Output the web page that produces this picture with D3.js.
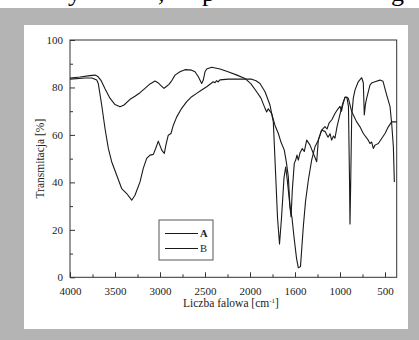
<!DOCTYPE html>
<html>
<head>
<meta charset="utf-8">
<script src="https://cdn.jsdelivr.net/npm/d3@7"></script>
<style>
  body { margin: 0; background: #b4b4b4; }
  svg { display: block; }
  text { font-family: "Liberation Serif", "Times New Roman", serif; fill: #222; }
</style>
</head>
<body>
<svg id="chart" width="419" height="340"></svg>
<script>
  // series: [wavenumber position, transmission %]
  const seriesA = [
    [4000, 84], [3889, 84.4], [3778, 85], [3722, 85.2], [3689, 84.6], [3656, 83],
    [3611, 79.5], [3556, 75.5], [3500, 72.8], [3444, 71.9], [3400, 72.6], [3333, 75],
    [3278, 76.3], [3222, 77.8], [3167, 79.6], [3111, 81.5], [3056, 82.7], [3022, 82],
    [2989, 80.8], [2956, 79.6], [2933, 80.3], [2900, 81.3], [2867, 83], [2833, 85.2],
    [2778, 86.6], [2722, 87.5], [2648, 87.3], [2611, 86.6], [2574, 84.5], [2537, 81.7],
    [2519, 83.1], [2500, 86.6], [2481, 87.8], [2426, 88.5], [2333, 87.8], [2244, 86.6],
    [2144, 85.2], [2056, 83.8], [1989, 81.5], [1926, 78.2], [1878, 75.5], [1833, 71.2],
    [1815, 69.7], [1797, 71], [1759, 69], [1722, 64], [1685, 60.6], [1656, 57],
    [1619, 53.6], [1594, 48], [1574, 42.3], [1556, 29.7], [1544, 25.4], [1530, 36.7],
    [1508, 48], [1492, 49.4], [1478, 51.5], [1463, 49.4], [1444, 52.5], [1419, 54.3],
    [1397, 53], [1370, 57.8], [1333, 55.7], [1296, 52.2], [1259, 48.7], [1241, 57.8],
    [1204, 62], [1167, 61.5], [1133, 59], [1111, 60.5], [1093, 57.8], [1072, 59.5],
    [1056, 58.6], [1033, 63.5], [1011, 67], [989, 70.5], [967, 73.5], [944, 75.8],
    [926, 76], [907, 75.4], [870, 69.8], [852, 68.4], [815, 65.5], [778, 63.4],
    [741, 60.6], [686, 57.8], [667, 56.4], [648, 57], [630, 54.3], [611, 55.7],
    [574, 56.4], [537, 58.5], [500, 60.6], [463, 63.4], [426, 65.5], [370, 65.5]
  ];

  const seriesB = [
    [4000, 83.5], [3833, 84], [3756, 84], [3703, 83.1], [3686, 81.7], [3648, 72.6],
    [3611, 62.7], [3574, 54.3], [3537, 48.7], [3481, 43], [3426, 37.4], [3370, 35.3],
    [3314, 32.5], [3278, 34.6], [3222, 40.2], [3186, 45.9], [3148, 50.1], [3111, 51.5],
    [3074, 51.8], [3048, 54.3], [3019, 57.4], [2981, 53.6], [2952, 52.2], [2933, 56],
    [2908, 59.9], [2878, 60.6], [2852, 64.1], [2814, 67.6], [2759, 71.2], [2703, 74],
    [2648, 76.1], [2593, 77.5], [2537, 78.9], [2481, 80.3], [2408, 82.4], [2389, 82],
    [2370, 82.9], [2356, 82.3], [2333, 83.2], [2241, 83.5], [1981, 83.5], [1933, 82.8],
    [1889, 81.7], [1833, 78.2], [1778, 72.6], [1741, 65.5], [1717, 45], [1694, 25],
    [1672, 14], [1650, 25], [1622, 42], [1603, 46.5], [1583, 40], [1556, 30],
    [1533, 25], [1511, 17], [1483, 8], [1463, 4], [1439, 4.5], [1408, 21.2],
    [1383, 32], [1352, 40.9], [1315, 49.4], [1278, 55], [1241, 57.8], [1204, 62],
    [1167, 63.5], [1144, 62.5], [1122, 65], [1089, 66.5], [1056, 69], [1022, 71],
    [1000, 72], [983, 70], [967, 73], [944, 76], [922, 75.5], [906, 72], [894, 40],
    [889, 22.5], [881, 40], [870, 68], [852, 75.5], [833, 79], [796, 82.5], [759, 84.1],
    [741, 82], [730, 68.4], [717, 73], [704, 75.4], [667, 81], [644, 82], [611, 82.4],
    [556, 83.1], [522, 82.6], [481, 76.8], [444, 71.9], [426, 64.9], [407, 55], [396, 40.2]
  ];

  const xTicks = [4000, 3500, 3000, 2500, 2000, 1500, 1000, 500];
  const xTickLabels = ['4000', '3500', '3000', '2500', '2000', '1600', '1000', '500'];
  const xMinor = [3750, 3250, 2750, 2250, 1750, 1250, 750];
  const yTicks = [0, 20, 40, 60, 80, 100];
  const yMinor = [10, 30, 50, 70, 90];
  const legendNames = ['A', 'B'];

  const svg = d3.select('#chart');

  // gray page with white panel
  svg.append('rect').attr('x', 0).attr('y', 0).attr('width', 419).attr('height', 340).attr('fill', '#b4b4b4');
  svg.append('rect').attr('x', 0).attr('y', 0).attr('width', 419).attr('height', 8).attr('fill', '#fff');
  svg.append('rect').attr('x', 24).attr('y', 25).attr('width', 384).attr('height', 304).attr('fill', '#fff');

  // descenders of the cut-off text line above the figure
  const topText = svg.append('g').attr('font-size', 26);
  [['y', 68], [',', 158], ['p', 202], ['g', 391]].forEach(([ch, px]) => {
    topText.append('text').attr('x', px).attr('y', 1).style('fill', '#000').text(ch);
  });

  const plotL = 70, plotR = 396.7, plotT = 40, plotB = 277.3;

  const x = d3.scaleLinear().domain([4000, 370]).range([plotL, plotR]);
  const y = d3.scaleLinear().domain([0, 100]).range([plotB, plotT]);

  // minor ticks
  svg.append('g')
    .attr('transform', `translate(0,${plotB})`)
    .call(d3.axisBottom(x).tickValues(xMinor).tickSize(-3).tickFormat(''))
    .call(g => g.select('.domain').remove())
    .call(g => g.selectAll('line').attr('stroke', '#333'));

  svg.append('g')
    .attr('transform', `translate(${plotL},0)`)
    .call(d3.axisLeft(y).tickValues(yMinor).tickSize(-3).tickFormat(''))
    .call(g => g.select('.domain').remove())
    .call(g => g.selectAll('line').attr('stroke', '#333'));

  // major ticks + labels
  svg.append('g')
    .attr('transform', `translate(0,${plotB})`)
    .call(d3.axisBottom(x).tickValues(xTicks).tickSize(-5).tickPadding(10)
      .tickFormat((d, i) => xTickLabels[i]))
    .call(g => g.select('.domain').remove())
    .call(g => g.selectAll('line').attr('stroke', '#333'))
    .call(g => g.selectAll('text').attr('font-size', 11).attr('font-family', '"Liberation Serif", serif').style('fill', '#222'));

  svg.append('g')
    .attr('transform', `translate(${plotL},0)`)
    .call(d3.axisLeft(y).tickValues(yTicks).tickSize(-5).tickPadding(7))
    .call(g => g.select('.domain').remove())
    .call(g => g.selectAll('line').attr('stroke', '#333'))
    .call(g => g.selectAll('text').attr('font-size', 11).attr('font-family', '"Liberation Serif", serif').style('fill', '#222'));

  // frame
  svg.append('rect')
    .attr('x', plotL).attr('y', plotT)
    .attr('width', plotR - plotL).attr('height', plotB - plotT)
    .attr('fill', 'none').attr('stroke', '#333').attr('stroke-width', 1);

  // spectra
  const line = d3.line().x(d => x(d[0])).y(d => y(d[1]));
  [seriesA, seriesB].forEach(s => {
    svg.append('path')
      .datum(s)
      .attr('d', line)
      .attr('fill', 'none')
      .attr('stroke', '#1a1a1a')
      .attr('stroke-width', 1.1)
      .attr('stroke-linejoin', 'round');
  });

  // axis titles
  svg.append('text')
    .attr('transform', `translate(44,${(plotT + plotB) / 2}) rotate(-90)`)
    .attr('text-anchor', 'middle')
    .attr('font-size', 11.5)
    .text('Transmitacja [%]');

  const xt = svg.append('text')
    .attr('x', 231).attr('y', 307)
    .attr('text-anchor', 'middle')
    .attr('font-size', 11.5);
  xt.append('tspan').text('Liczba falowa [cm');
  xt.append('tspan').attr('dy', -4).attr('font-size', 7).text('-1');
  xt.append('tspan').attr('dy', 4).text(']');

  // legend
  const lg = svg.append('g');
  lg.append('rect').attr('x', 159).attr('y', 220).attr('width', 54).attr('height', 40)
    .attr('fill', '#fff').attr('stroke', '#555').attr('stroke-width', 1);
  legendNames.forEach((name, i) => {
    const ly = 233.5 + i * 15;
    lg.append('line').attr('x1', 165).attr('x2', 198).attr('y1', ly).attr('y2', ly)
      .attr('stroke', '#1a1a1a').attr('stroke-width', 1.1);
    lg.append('text').attr('x', 200).attr('y', ly + 3.5)
      .attr('font-size', 10.5)
      .attr('font-weight', i === 0 ? 'bold' : 'normal')
      .text(name);
  });
</script>
</body>
</html>
